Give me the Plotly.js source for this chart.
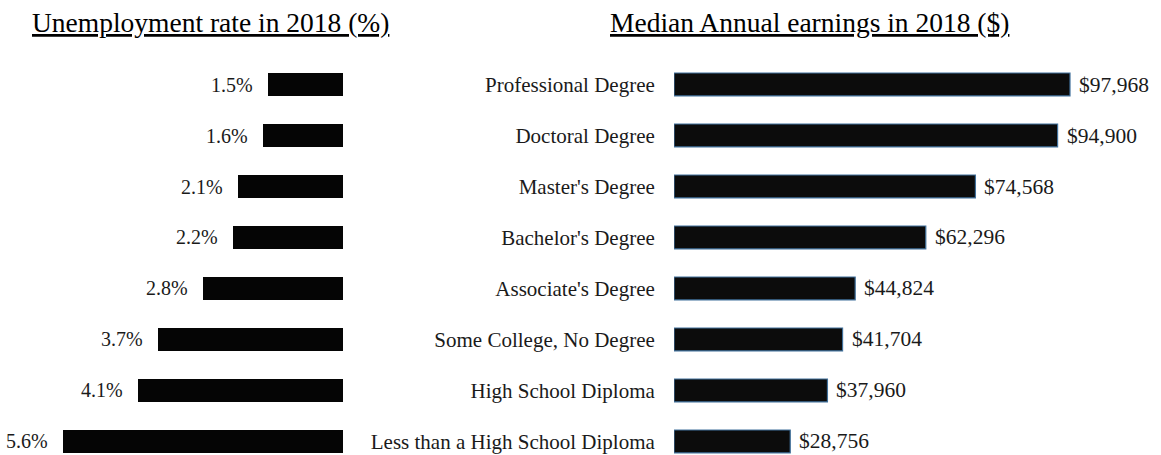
<!DOCTYPE html>
<html>
<head>
<meta charset="utf-8">
<script src="https://cdn.plot.ly/plotly-3.0.1.min.js"></script>
<style>html,body{margin:0;padding:0;background:#fff;}#chart{width:1161px;height:455px;}</style>
</head>
<body>
<div id="chart"></div>
<script>
const categories = ["Professional Degree", "Doctoral Degree", "Master's Degree", "Bachelor's Degree",
  "Associate's Degree", "Some College, No Degree", "High School Diploma", "Less than a High School Diploma"];
const unemployment = [1.5, 1.6, 2.1, 2.2, 2.8, 3.7, 4.1, 5.6];
const earnings = [97968, 94900, 74568, 62296, 44824, 41704, 37960, 28756];
const unemploymentLabels = ["1.5%", "1.6%", "2.1%", "2.2%", "2.8%", "3.7%", "4.1%", "5.6%"];
const earningsLabels = ["$97,968", "$94,900", "$74,568", "$62,296", "$44,824", "$41,704", "$37,960", "$28,756"];
const leftTitle = "Unemployment rate in 2018 (%)";
const rightTitle = "Median Annual earnings in 2018 ($)";

const FONT = "Liberation Serif, Times New Roman, serif";

const traces = [
  {
    type: 'bar', orientation: 'h', x: unemployment, y: categories,
    xaxis: 'x', yaxis: 'y', width: 0.45,
    marker: {color: '#050505', line: {width: 0}},
    hoverinfo: 'skip'
  },
  {
    type: 'bar', orientation: 'h', x: earnings, y: categories,
    xaxis: 'x2', yaxis: 'y2', width: 0.45,
    marker: {color: '#0c0c0c', line: {color: '#41719c', width: 1.2}},
    hoverinfo: 'skip'
  }
];

const annotations = [];
unemployment.forEach((v, i) => {
  annotations.push({
    xref: 'x', yref: 'y', x: v, y: categories[i], text: unemploymentLabels[i],
    showarrow: false, xanchor: 'right', yanchor: 'middle', xshift: -13,
    font: {family: FONT, size: 20, color: '#1a1a1a'}
  });
});
earnings.forEach((v, i) => {
  annotations.push({
    xref: 'x2', yref: 'y2', x: v, y: categories[i], text: earningsLabels[i],
    showarrow: false, xanchor: 'left', yanchor: 'middle', xshift: 7,
    font: {family: FONT, size: 21.5, color: '#1a1a1a'}
  });
});
annotations.push({
  xref: 'paper', yref: 'paper', x: 211 / 1161, y: 1.093, text: '<u>' + leftTitle + '</u>',
  showarrow: false, xanchor: 'center', yanchor: 'middle',
  font: {family: FONT, size: 27.5, color: '#000'}
});
annotations.push({
  xref: 'paper', yref: 'paper', x: 809 / 1161, y: 1.093, text: '<u>' + rightTitle + '</u>',
  showarrow: false, xanchor: 'center', yanchor: 'middle',
  font: {family: FONT, size: 27.5, color: '#000'}
});

const yRange = [7.265, -0.5];

const layout = {
  width: 1161, height: 455,
  margin: {l: 0, r: 0, t: 59, b: 0, pad: 0},
  paper_bgcolor: '#fff', plot_bgcolor: 'rgba(0,0,0,0)',
  showlegend: false,
  font: {family: FONT, size: 20, color: '#1a1a1a'},
  xaxis: {domain: [0, 343 / 1161], range: [6.86, 0], showgrid: false, zeroline: false,
          showticklabels: false, showline: false, ticks: '', fixedrange: true},
  yaxis: {domain: [0, 1], anchor: 'x', type: 'category', categoryorder: 'array', categoryarray: categories,
          range: yRange, showticklabels: false, showgrid: false, zeroline: false, showline: false, ticks: ''},
  xaxis2: {domain: [674 / 1161, 1], range: [0, 120480], showgrid: false, zeroline: false,
           showticklabels: false, showline: false, ticks: '', anchor: 'y2'},
  yaxis2: {domain: [0, 1], anchor: 'x2', type: 'category', categoryorder: 'array', categoryarray: categories,
           range: yRange, showticklabels: true, showgrid: false, zeroline: false, showline: false,
           ticks: 'outside', ticklen: 14, tickcolor: 'rgba(0,0,0,0)',
           tickfont: {family: FONT, size: 21, color: '#1a1a1a'}},
  annotations: annotations
};

Plotly.newPlot('chart', traces, layout, {displayModeBar: false, staticPlot: true});
</script>
</body>
</html>
